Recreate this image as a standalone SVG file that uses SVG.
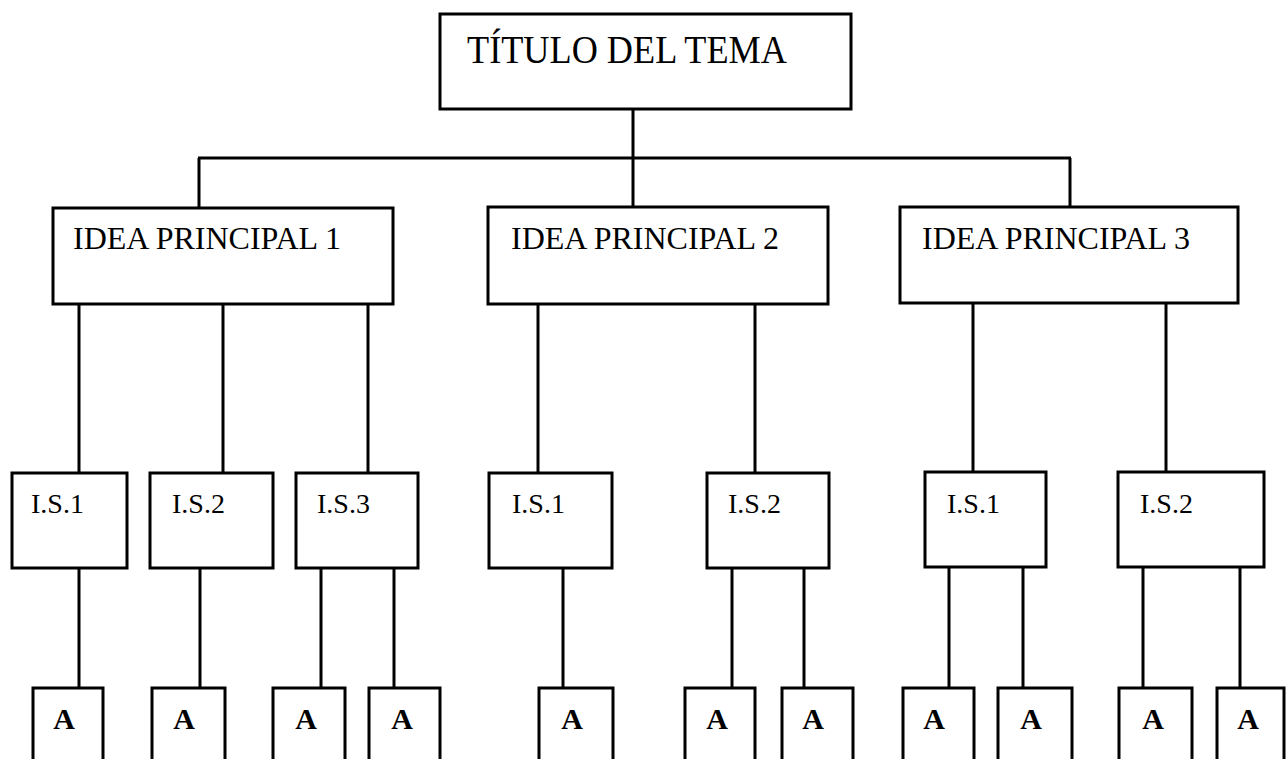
<svg xmlns="http://www.w3.org/2000/svg" width="1286" height="759" viewBox="0 0 1286 759">
<style>
.box{fill:#fff;stroke:#000;stroke-width:3}
.ln{stroke:#000;stroke-width:3;fill:none}
.t{font-family:"Liberation Serif","Times New Roman",serif;fill:#000}
.title{font-size:39px}
.idea{font-size:32px}
.is{font-size:28px}
.a{font-size:30px;font-weight:bold;text-anchor:middle}
</style>
<rect width="1286" height="759" fill="#fff"/>
<g id="connectors">
<line class="ln" x1="633" y1="109" x2="633" y2="207"/>
<line class="ln" x1="198" y1="158" x2="1071" y2="158"/>
<line class="ln" x1="199" y1="158" x2="199" y2="208"/>
<line class="ln" x1="1070" y1="158" x2="1070" y2="207"/>
<line class="ln" x1="79" y1="304" x2="79" y2="473"/>
<line class="ln" x1="223" y1="304" x2="223" y2="473"/>
<line class="ln" x1="368" y1="304" x2="368" y2="473"/>
<line class="ln" x1="538" y1="304" x2="538" y2="473"/>
<line class="ln" x1="755" y1="304" x2="755" y2="473"/>
<line class="ln" x1="973" y1="303" x2="973" y2="472"/>
<line class="ln" x1="1166" y1="303" x2="1166" y2="472"/>
<line class="ln" x1="79" y1="568" x2="79" y2="688"/>
<line class="ln" x1="200" y1="568" x2="200" y2="688"/>
<line class="ln" x1="321" y1="568" x2="321" y2="688"/>
<line class="ln" x1="394" y1="568" x2="394" y2="688"/>
<line class="ln" x1="563" y1="568" x2="563" y2="688"/>
<line class="ln" x1="732" y1="568" x2="732" y2="688"/>
<line class="ln" x1="804" y1="568" x2="804" y2="688"/>
<line class="ln" x1="949" y1="567" x2="949" y2="688"/>
<line class="ln" x1="1023" y1="567" x2="1023" y2="688"/>
<line class="ln" x1="1143" y1="567" x2="1143" y2="688"/>
<line class="ln" x1="1240" y1="567" x2="1240" y2="688"/>
</g>
<g id="titulo"><rect class="box" x="440" y="14" width="411" height="95"/><text class="t title" x="467" y="63" textLength="320" lengthAdjust="spacingAndGlyphs">TÍTULO DEL TEMA</text></g>
<g id="idea1"><rect class="box" x="53" y="208" width="340" height="96"/><text class="t idea" x="73" y="249">IDEA PRINCIPAL 1</text></g>
<g id="idea2"><rect class="box" x="488" y="207" width="340" height="97"/><text class="t idea" x="511" y="249">IDEA PRINCIPAL 2</text></g>
<g id="idea3"><rect class="box" x="900" y="207" width="338" height="96"/><text class="t idea" x="922" y="249">IDEA PRINCIPAL 3</text></g>
<g id="is1-1"><rect class="box" x="12" y="473" width="115" height="95"/><text class="t is" x="31" y="513">I.S.1</text></g>
<g id="is1-2"><rect class="box" x="150" y="473" width="123" height="95"/><text class="t is" x="172" y="513">I.S.2</text></g>
<g id="is1-3"><rect class="box" x="296" y="473" width="122" height="95"/><text class="t is" x="317" y="513">I.S.3</text></g>
<g id="is2-1"><rect class="box" x="489" y="473" width="123" height="95"/><text class="t is" x="512" y="513">I.S.1</text></g>
<g id="is2-2"><rect class="box" x="707" y="473" width="122" height="95"/><text class="t is" x="728" y="513">I.S.2</text></g>
<g id="is3-1"><rect class="box" x="925" y="472" width="121" height="95"/><text class="t is" x="947" y="513">I.S.1</text></g>
<g id="is3-2"><rect class="box" x="1118" y="472" width="146" height="95"/><text class="t is" x="1140" y="513">I.S.2</text></g>
<g id="a1"><rect class="box" x="33" y="688" width="70" height="90"/><text class="t a" x="64" y="729">A</text></g>
<g id="a2"><rect class="box" x="152" y="688" width="73" height="90"/><text class="t a" x="184" y="729">A</text></g>
<g id="a3"><rect class="box" x="273" y="688" width="72" height="90"/><text class="t a" x="306" y="729">A</text></g>
<g id="a4"><rect class="box" x="369" y="688" width="71" height="90"/><text class="t a" x="402" y="729">A</text></g>
<g id="a5"><rect class="box" x="539" y="688" width="74" height="90"/><text class="t a" x="572" y="729">A</text></g>
<g id="a6"><rect class="box" x="685" y="688" width="70" height="90"/><text class="t a" x="717" y="729">A</text></g>
<g id="a7"><rect class="box" x="782" y="688" width="71" height="90"/><text class="t a" x="813" y="729">A</text></g>
<g id="a8"><rect class="box" x="903" y="688" width="71" height="90"/><text class="t a" x="934" y="729">A</text></g>
<g id="a9"><rect class="box" x="998" y="688" width="74" height="90"/><text class="t a" x="1031" y="729">A</text></g>
<g id="a10"><rect class="box" x="1119" y="688" width="73" height="90"/><text class="t a" x="1153" y="729">A</text></g>
<g id="a11"><rect class="box" x="1217" y="688" width="67" height="90"/><text class="t a" x="1248" y="729">A</text></g>
</svg>
